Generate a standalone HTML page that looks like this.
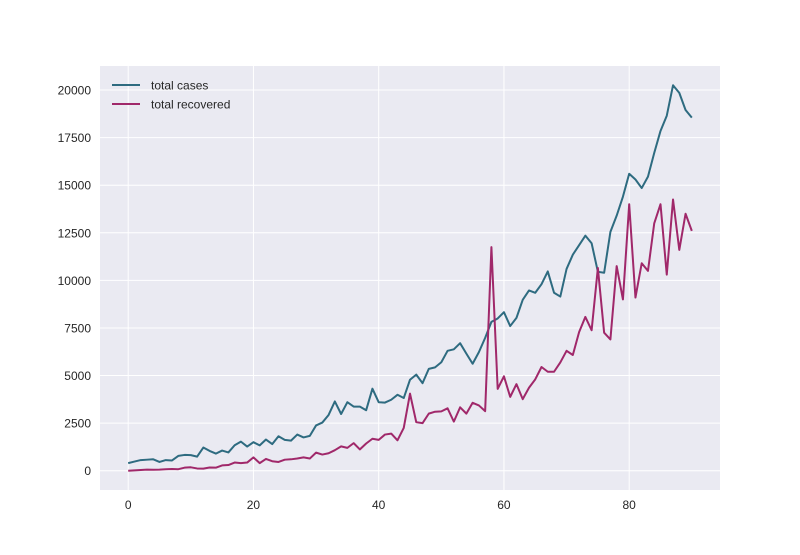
<!DOCTYPE html>
<html><head><meta charset="utf-8"><style>
body{margin:0;background:#fff;}
svg{font-family:"Liberation Sans",sans-serif;}
</style></head><body>
<svg id="chart" width="800" height="550">
<rect x="100" y="66" width="620" height="424" fill="#eaeaf2"/>
<g id="grid"></g><g id="ticks"></g><g id="lines"></g>
<g>
<line x1="112" y1="85" x2="140" y2="85" stroke="#2e6b80" stroke-width="2"/>
<text x="151" y="89.5" font-size="12" fill="#262626">total cases</text>
<line x1="112" y1="104" x2="140" y2="104" stroke="#a0286a" stroke-width="2"/>
<text x="151" y="108.5" font-size="12" fill="#262626">total recovered</text>
</g>
</svg>
<script>
const totalCases=[400,480,560,580,600,460,560,540,780,830,820,740,1220,1040,900,1060,960,1340,1530,1270,1500,1330,1640,1400,1810,1620,1580,1900,1750,1830,2380,2530,2930,3640,2980,3600,3370,3370,3180,4310,3600,3580,3730,3990,3820,4780,5050,4600,5350,5430,5700,6300,6380,6700,6150,5620,6230,6980,7820,8000,8330,7600,8030,8980,9470,9350,9800,10470,9350,9150,10600,11350,11850,12350,11950,10450,10400,12550,13400,14400,15600,15300,14850,15450,16700,17850,18650,20250,19850,18950,18550];
const totalRecovered=[0,20,40,60,50,60,80,90,80,160,180,120,110,170,160,280,300,430,400,430,700,400,620,500,460,580,600,640,700,640,950,850,920,1080,1280,1200,1450,1120,1430,1680,1620,1900,1950,1600,2250,4050,2550,2500,3000,3100,3120,3280,2580,3330,3000,3570,3430,3130,11750,4300,4960,3880,4550,3760,4360,4800,5450,5200,5200,5690,6300,6080,7280,8080,7380,10650,7250,6900,10750,9000,14000,9100,10900,10500,13000,14000,10300,14250,11600,13500,12600];
const xTicks=[0,20,40,60,80];
const yTicks=[0,2500,5000,7500,10000,12500,15000,17500,20000];
const NS="http://www.w3.org/2000/svg";
const xMin=-4.5,xMax=94.5,yMin=-1012.5,yMax=21262.5;
const X=v=>100+(v-xMin)/(xMax-xMin)*620;
const Y=v=>490-(v-yMin)/(yMax-yMin)*424;
function mk(tag,attrs,parent){const e=document.createElementNS(NS,tag);for(const k in attrs)e.setAttribute(k,attrs[k]);parent.appendChild(e);return e;}
const grid=document.getElementById('grid'),ticks=document.getElementById('ticks'),lines=document.getElementById('lines');
xTicks.forEach(t=>{
 const l=mk('line',{x1:X(t),x2:X(t),y1:66,y2:490,stroke:'#fff','stroke-width':1},grid);
 
 
 const tx=mk('text',{x:X(t),y:509,'font-size':12,fill:'#262626','text-anchor':'middle'},ticks);
 tx.textContent=t;
 
 
});
yTicks.forEach(t=>{
 const l=mk('line',{x1:100,x2:720,y1:Y(t),y2:Y(t),stroke:'#fff','stroke-width':1},grid);
 
 
 const tx=mk('text',{x:91,y:Y(t)+4.5,'font-size':12,fill:'#262626','text-anchor':'end'},ticks);
 tx.textContent=t;
 
 
});
function series(data,color,name){
 const p=mk('polyline',{points:data.map((v,i)=>X(i)+','+Y(v)).join(' '),fill:'none',stroke:color,'stroke-width':2,'stroke-linejoin':'round'},lines);
 
 
}
series(totalCases,'#2e6b80','total-cases-line');
series(totalRecovered,'#a0286a','total-recovered-line');
</script>
</body></html>
